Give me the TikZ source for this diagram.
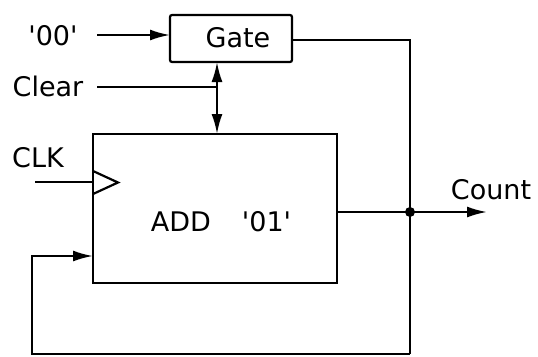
\documentclass[tikz,border=0pt]{standalone}
\usepackage{fontspec}
\newfontfamily\diag{DejaVu Sans}
\usetikzlibrary{arrows.meta}
\begin{document}
\begin{tikzpicture}[x=1pt,y=-1pt,
  wire/.style={line width=2.2pt},
  arr/.style={wire,-{Latex[length=20pt,width=11pt]}},
  blk/.style={draw,line width=2.2pt,rounded corners=2pt},
  lbl/.style={font=\diag\fontsize{27}{30}\selectfont,inner sep=0pt}]
\useasboundingbox (0,0) rectangle (538,356);
% blocks
\node[blk,minimum width=122pt,minimum height=47pt] (gate) at (231,38.5) {};
\node[lbl] (gatetxt) at (238,38) {Gate};
\node[blk,rounded corners=0pt,minimum width=244pt,minimum height=149pt] (add) at (215,208.5) {};
\node[lbl] (addtxt) at (221,222) {ADD\hspace{31pt}'01'};
% labels
\node[lbl] (zz) at (53,36) {'00'};
\node[lbl] (clear) at (48,86) {Clear};
\node[lbl] (clk) at (38,158) {CLK};
\node[lbl] (count) at (491,190) {Count};
% coordinates
\coordinate (zzs) at (97,35);
\coordinate (gin) at (170,35);
\coordinate (cls) at (97,87);
\coordinate (clj) at (217,87);
\coordinate (gbot) at (217,62);
\coordinate (atop) at (217,134);
\coordinate (clks) at (35,182);
\coordinate (clke) at (93,182);
\coordinate (gout) at (292,40);
\coordinate (gcorner) at (410,40);
\coordinate (junc) at (410,212);
\coordinate (aout) at (337,212);
\coordinate (cend) at (487,212);
\coordinate (bcorner) at (410,354);
\coordinate (lcorner) at (32,354);
\coordinate (fcorner) at (32,256);
\coordinate (ain) at (93,256);
% connectors
\draw[arr] (zzs) -- (gin);
\draw[wire] (cls) -- (clj);
\draw[arr] (clj) -- (gbot);
\draw[arr] (clj) -- (atop);
\draw[wire] (clks) -- (clke);
\draw[wire,line join=miter] (93,171) -- (118,182.5) -- (93,194);
\draw[wire] (gout) -- (gcorner) -- (bcorner);
\draw[arr] (aout) -- (cend);
\fill (junc) circle (5pt);
\draw[arr] (bcorner) -- (lcorner) -- (fcorner) -- (ain);
\end{tikzpicture}
\end{document}
